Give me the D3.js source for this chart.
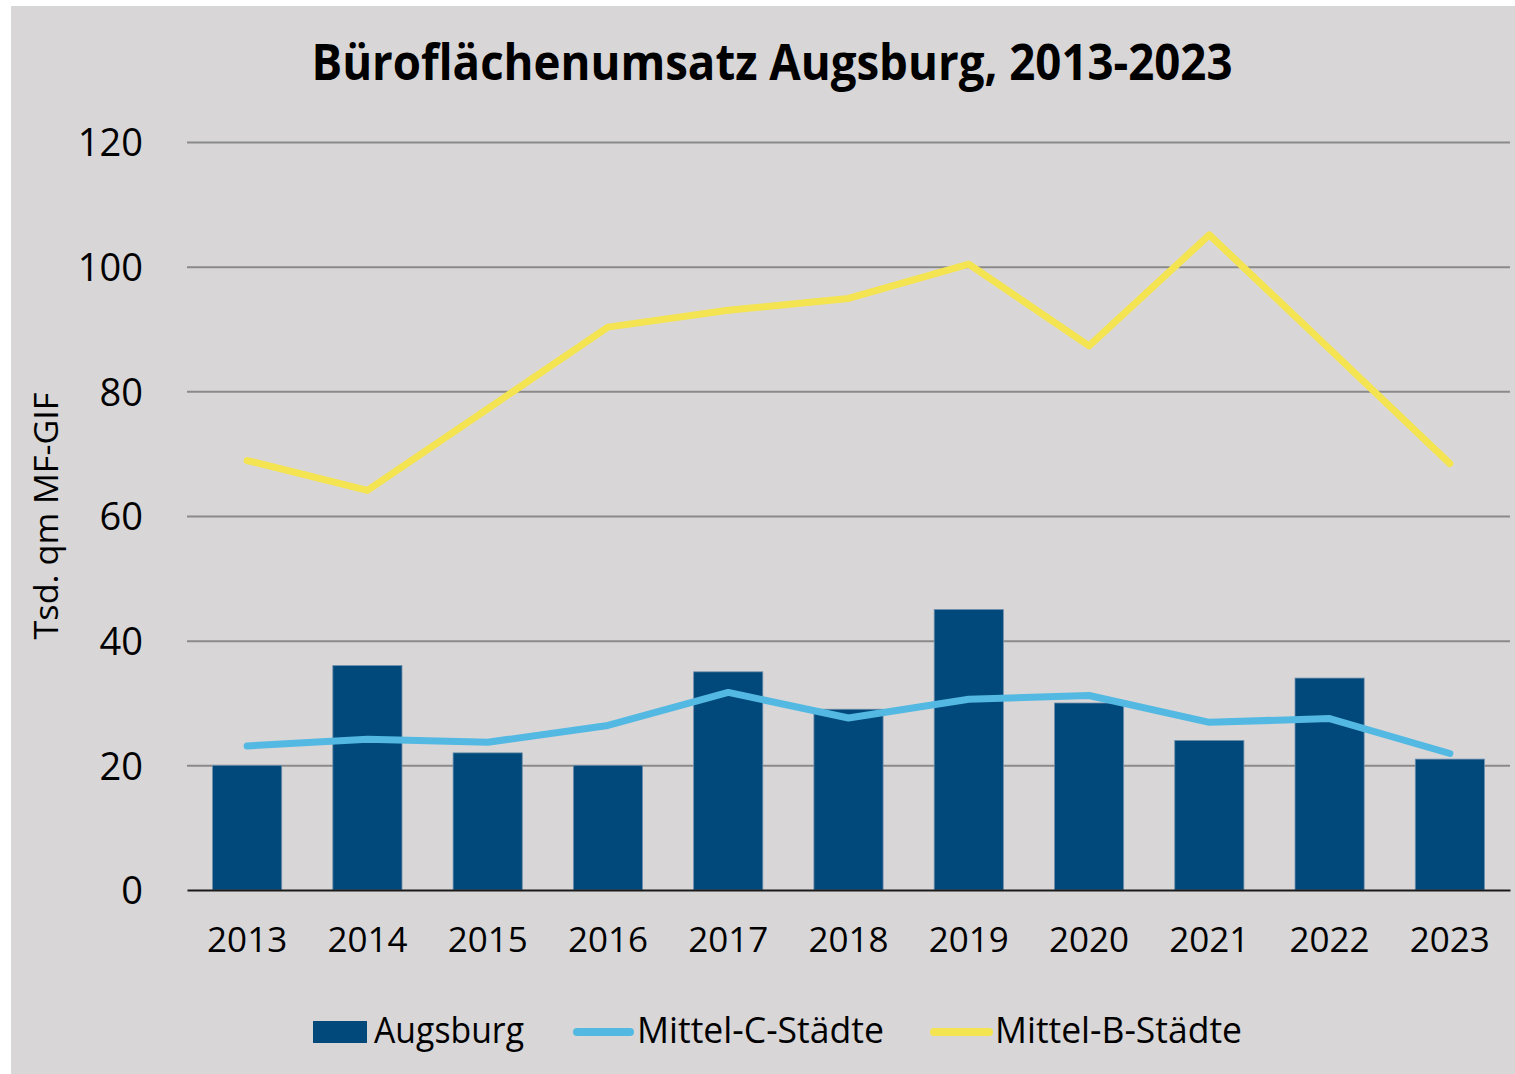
<!DOCTYPE html>
<html>
<head>
<meta charset="utf-8">
<script src="https://cdn.jsdelivr.net/npm/d3@7"></script>
<style>
  body { margin: 0; background: #fff; }
  svg { display: block; }
  text { font-family: "Open Sans", "Noto Sans", sans-serif; fill: #000; }
</style>
</head>
<body>
<div id="chart" style="width:1515px;height:1074px"></div>
<script>
const years = ['2013', '2014', '2015', '2016', '2017', '2018', '2019', '2020', '2021', '2022', '2023'];
const augsburg = [20, 36, 22, 20, 35, 29, 45, 30, 24, 34, 21];
const mittelC = [23.1, 24.2, 23.7, 26.4, 31.7, 27.6, 30.6, 31.2, 26.9, 27.5, 21.9];
const mittelB = [68.9, 64.1, 77.2, 90.3, 93.0, 94.9, 100.4, 87.3, 105.1, 86.8, 68.4];
const yTicks = [0, 20, 40, 60, 80, 100, 120];

const title = 'Büroflächenumsatz Augsburg, 2013-2023';
const yAxisLabel = 'Tsd. qm MF-GIF';

const W = 1515, H = 1074;
const margin = {top: 142, right: 5, bottom: 184, left: 187};
const innerWidth = W - margin.left - margin.right;
const innerHeight = H - margin.top - margin.bottom;

const svg = d3.select('#chart').append('svg')
    .attr('width', W)
    .attr('height', H);

// grey panel
svg.append('rect')
    .attr('x', 11).attr('y', 6)
    .attr('width', W - 11).attr('height', H - 6)
    .attr('fill', '#d8d6d7');

const g = svg.append('g')
    .attr('transform', `translate(${margin.left},${margin.top})`);

const xScale = d3.scaleBand()
    .domain(years)
    .range([0, innerWidth])
    .paddingInner(0.425)
    .paddingOuter(0.2125);

const yScale = d3.scaleLinear()
    .domain([0, 120])
    .range([innerHeight, 0]);

// gridlines + y labels
const yAxis = d3.axisLeft(yScale)
    .tickValues(yTicks)
    .tickSize(-innerWidth)
    .tickPadding(44);

const yAxisG = g.append('g').call(yAxis);
yAxisG.select('.domain').remove();
yAxisG.selectAll('.tick line')
    .attr('stroke', '#8a8a8a')
    .attr('stroke-width', 2)
    .filter(d => d === 0).remove();
yAxisG.selectAll('.tick text')
    .attr('font-size', 38)
    .attr('font-family', '"Open Sans", sans-serif')
    .attr('fill', '#000')
    .attr('dy', '0.36em');

// bars
g.append('g').selectAll('rect').data(augsburg)
    .enter()
    .append('rect')
    .attr('x', (d, i) => xScale(years[i]))
    .attr('y', d => yScale(d))
    .attr('width', xScale.bandwidth())
    .attr('height', d => innerHeight - yScale(d))
    .attr('fill', '#00497a')
    .attr('stroke', '#6f8fae')
    .attr('stroke-width', 0.8);

// x axis
const xAxis = d3.axisBottom(xScale)
    .tickSize(0)
    .tickPadding(37);

const xAxisG = g.append('g')
    .attr('transform', `translate(0,${innerHeight})`)
    .call(xAxis);
xAxisG.select('.domain')
    .attr('stroke', '#1a1a1a')
    .attr('stroke-width', 2.2);
xAxisG.selectAll('.tick text')
    .attr('font-size', 35)
    .attr('font-family', '"Open Sans", sans-serif')
    .attr('fill', '#000');

// lines
const line = d3.line()
    .x((d, i) => xScale(years[i]) + xScale.bandwidth() / 2)
    .y(d => yScale(d));

g.append('path')
    .datum(mittelC)
    .attr('d', line)
    .attr('fill', 'none')
    .attr('stroke', '#53b9e2')
    .attr('stroke-width', 7)
    .attr('stroke-linejoin', 'round')
    .attr('stroke-linecap', 'round');

g.append('path')
    .datum(mittelB)
    .attr('d', line)
    .attr('fill', 'none')
    .attr('stroke', '#f4e452')
    .attr('stroke-width', 7)
    .attr('stroke-linejoin', 'round')
    .attr('stroke-linecap', 'round');

// title
svg.append('text')
    .attr('x', 772)
    .attr('y', 80)
    .attr('text-anchor', 'middle')
    .attr('font-size', 50)
    .attr('font-weight', 'bold')
    .attr('textLength', 921)
    .attr('lengthAdjust', 'spacingAndGlyphs')
    .text(title);

// y axis label
svg.append('text')
    .attr('transform', 'translate(58,516) rotate(-90)')
    .attr('text-anchor', 'middle')
    .attr('font-size', 32)
    .attr('textLength', 247)
    .attr('lengthAdjust', 'spacingAndGlyphs')
    .text(yAxisLabel);

// legend
const legend = svg.append('g');
legend.append('rect')
    .attr('x', 313).attr('y', 1021)
    .attr('width', 54).attr('height', 22)
    .attr('fill', '#00497a');
legend.append('text')
    .attr('x', 374).attr('y', 1043)
    .attr('font-size', 36)
    .attr('textLength', 150)
    .attr('lengthAdjust', 'spacingAndGlyphs')
    .text('Augsburg');

legend.append('line')
    .attr('x1', 577).attr('x2', 630)
    .attr('y1', 1032).attr('y2', 1032)
    .attr('stroke', '#53b9e2')
    .attr('stroke-width', 8)
    .attr('stroke-linecap', 'round');
legend.append('text')
    .attr('x', 637).attr('y', 1043)
    .attr('font-size', 36)
    .attr('textLength', 247)
    .attr('lengthAdjust', 'spacingAndGlyphs')
    .text('Mittel-C-Städte');

legend.append('line')
    .attr('x1', 934).attr('x2', 989)
    .attr('y1', 1032).attr('y2', 1032)
    .attr('stroke', '#f4e452')
    .attr('stroke-width', 8)
    .attr('stroke-linecap', 'round');
legend.append('text')
    .attr('x', 995).attr('y', 1043)
    .attr('font-size', 36)
    .attr('textLength', 247)
    .attr('lengthAdjust', 'spacingAndGlyphs')
    .text('Mittel-B-Städte');
</script>
</body>
</html>
